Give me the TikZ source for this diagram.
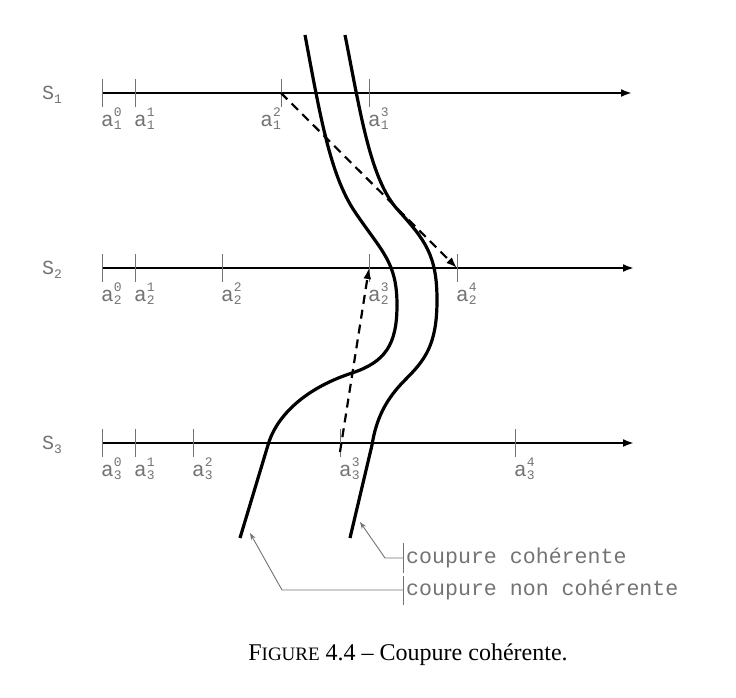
\documentclass[tikz,border=0pt]{standalone}
\usepackage{fontspec}
\setmainfont{Liberation Serif}
\setmonofont{Liberation Mono}
\usetikzlibrary{arrows.meta}
\definecolor{lblgray}{RGB}{115,115,115}
\newcommand\scr[1]{{\fontsize{13}{13}\selectfont #1}}
\newcommand\albl[2]{a\rlap{\raisebox{0.48em}{\scr{#2}}}\raisebox{-0.12em}{\scr{#1}}}
\newcommand\slbl[1]{S\raisebox{-0.2em}{\scr{#1}}}
\tikzset{
  axisline/.style={line width=2.4pt,-{Latex[length=11pt,width=8pt]}},
  tick/.style={draw=lblgray,line width=0.9pt},
  ticklbl/.style={inner sep=0pt,text=lblgray,font=\fontsize{21}{21}\selectfont\ttfamily},
  seqlbl/.style={inner sep=0pt,anchor=west,text=lblgray,font=\fontsize{20}{20}\selectfont\ttfamily},
  cut/.style={line width=3.2pt},
  msg/.style={line width=2.2pt,dash pattern=on 9pt off 6pt,-{Latex[length=11pt,width=8pt]}},
  note/.style={draw=lblgray,line width=0.9pt},
  notearrow/.style={draw=lblgray,line width=0.9pt,-{Stealth[length=7pt,width=5pt]}},
  notetxt/.style={inner sep=0pt,anchor=west,text=lblgray,font=\fontsize{21.6}{21.6}\selectfont\ttfamily},
}
\begin{document}
\begin{tikzpicture}[x=1pt,y=-1pt]
\useasboundingbox (0,0) rectangle (736,698);
% sequence labels
\node[seqlbl] (S1) at (42,95) {\slbl{1}};
\node[seqlbl] (S2) at (42,270) {\slbl{2}};
\node[seqlbl] (S3) at (42,445) {\slbl{3}};
% axes
\coordinate (s1a) at (102,93); \coordinate (s1b) at (632,93);
\coordinate (s2a) at (102,268); \coordinate (s2b) at (634,268);
\coordinate (s3a) at (102,443); \coordinate (s3b) at (634,443);
\draw[axisline] (s1a) -- (s1b);
\draw[axisline] (s2a) -- (s2b);
\draw[axisline] (s3a) -- (s3b);
% ticks
\foreach \n/\x in {0/102,1/135,2/281,3/369}{
  \coordinate (t1\n) at (\x,93);
  \draw[tick] (\x,79) -- (\x,107);
}
\foreach \n/\x in {0/102,1/135,2/222,3/369,4/457}{
  \coordinate (t2\n) at (\x,268);
  \draw[tick] (\x,254) -- (\x,282);
}
\foreach \n/\x in {0/102,1/135,2/193,3/340,4/515}{
  \coordinate (t3\n) at (\x,443);
  \draw[tick] (\x,429) -- (\x,457);
}
% tick labels
\node[ticklbl,anchor=north west] (l10) at (101,108) {\albl{1}{0}};
\node[ticklbl,anchor=north west] (l11) at (134,108) {\albl{1}{1}};
\node[ticklbl,anchor=north east] (l12) at (281,108) {\albl{1}{2}};
\node[ticklbl,anchor=north west] (l13) at (368,108) {\albl{1}{3}};
\node[ticklbl,anchor=north west] (l20) at (101,283) {\albl{2}{0}};
\node[ticklbl,anchor=north west] (l21) at (134,283) {\albl{2}{1}};
\node[ticklbl,anchor=north west] (l22) at (221,283) {\albl{2}{2}};
\node[ticklbl,anchor=north west] (l23) at (368,283) {\albl{2}{3}};
\node[ticklbl,anchor=north west] (l24) at (456,283) {\albl{2}{4}};
\node[ticklbl,anchor=north west] (l30) at (101,458) {\albl{3}{0}};
\node[ticklbl,anchor=north west] (l31) at (134,458) {\albl{3}{1}};
\node[ticklbl,anchor=north west] (l32) at (192,458) {\albl{3}{2}};
\node[ticklbl,anchor=north west] (l33) at (339,458) {\albl{3}{3}};
\node[ticklbl,anchor=north west] (l34) at (514,458) {\albl{3}{4}};
% cuts
\coordinate (cutNC) at (240,538);
\coordinate (cutC) at (350,538);
\draw[cut] (305,35) .. controls (320,115) and (330,175) .. (355,212)
  .. controls (382,252) and (397,262) .. (397,305)
  .. controls (397,345) and (385,362) .. (352,373)
  .. controls (300,390) and (275,420) .. (268,445) -- (cutNC);
\draw[cut] (345,35) .. controls (360,110) and (370,180) .. (398,210)
  .. controls (425,240) and (437,255) .. (437,300)
  .. controls (437,345) and (425,360) .. (405,380)
  .. controls (385,400) and (376,420) .. (372,445) -- (cutC);
% messages
\draw[msg] (t12) -- (t24);
\draw[msg] ([yshift=-9pt]t33) -- (t23);
% annotations
\coordinate (b1) at (403,558);
\coordinate (b2) at (403,590);
\draw[note] (403,543) -- (403,573);
\draw[note] (403,576) -- (403,605);
\node[notetxt] (n1) at (406,558) {coupure cohérente};
\node[notetxt] (n2) at (406,590) {coupure non cohérente};
\draw[notearrow] (b1) -- (385,558) -- (360,522);
\draw[notearrow] (b2) -- (282,590) -- (250,533);
% caption
\node[inner sep=0pt,font=\fontsize{24}{24}\selectfont] (cap) at (408,655) {F{\fontsize{19}{19}\selectfont IGURE} 4.4 -- Coupure cohérente.};
\end{tikzpicture}
\end{document}
